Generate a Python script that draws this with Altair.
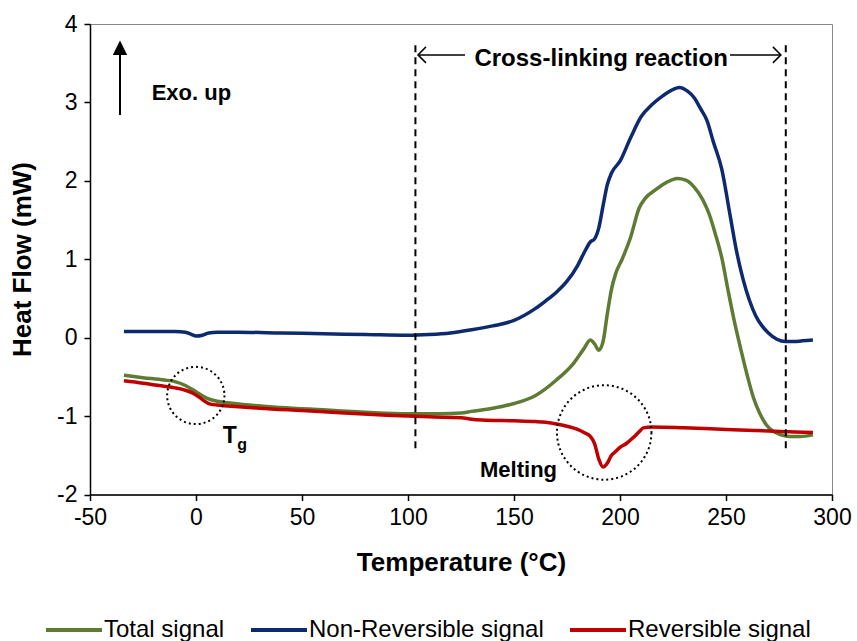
import altair as alt
import pandas as pd

# ---------------- data ----------------
series_names = ["Total signal", "Non-Reversible signal", "Reversible signal"]
series_colors = ["#5E7B33", "#0E2A6E", "#C00000"]

total_x = [-34, -25, -15, -10, -5, 0, 5, 10, 15, 25, 40, 60, 80, 100, 115, 125, 130, 140, 150,
           160, 170, 178, 183, 186, 188, 190, 192, 194, 196, 198, 201, 205, 209, 212, 217, 222,
           227, 231, 235, 239, 242, 245, 248, 251, 254, 257, 260, 263, 266, 269, 272, 276, 280,
           285, 291]
total_y = [-0.48, -0.51, -0.54, -0.56, -0.61, -0.69, -0.77, -0.81, -0.83, -0.86, -0.89, -0.92,
           -0.95, -0.97, -0.97, -0.96, -0.94, -0.90, -0.84, -0.74, -0.54, -0.33, -0.14, -0.03,
           -0.08, -0.16, -0.05, 0.30, 0.62, 0.82, 1.00, 1.28, 1.65, 1.78, 1.89, 1.98, 2.03, 2.01,
           1.92, 1.76, 1.58, 1.32, 1.02, 0.60, 0.20, -0.15, -0.48, -0.77, -0.97, -1.11, -1.19,
           -1.24, -1.26, -1.26, -1.24]

nonrev_x = [-34, -30, -20, -10, -5, -2, 0, 3, 6, 10, 20, 40, 60, 80, 100, 110, 120, 130, 140,
            150, 160, 165, 170, 175, 180, 183, 186, 188, 190, 192, 194, 196, 200, 205, 210, 215,
            220, 224, 228, 232, 235, 238, 241, 244, 248, 252, 255, 258, 261, 264, 267, 270, 274,
            278, 282, 286, 291]
nonrev_y = [0.08, 0.08, 0.08, 0.08, 0.07, 0.04, 0.02, 0.03, 0.06, 0.07, 0.07, 0.06, 0.05, 0.04,
            0.03, 0.04, 0.06, 0.10, 0.15, 0.22, 0.37, 0.47, 0.58, 0.72, 0.92, 1.08, 1.22, 1.26,
            1.40, 1.68, 1.95, 2.10, 2.25, 2.55, 2.82, 2.97, 3.08, 3.15, 3.19, 3.14, 3.06, 2.92,
            2.77, 2.50, 2.15, 1.55, 1.10, 0.75, 0.48, 0.28, 0.15, 0.06, -0.02, -0.05, -0.05,
            -0.04, -0.03]

rev_x = [-34, -25, -15, -10, -5, -2, 0, 3, 6, 10, 15, 30, 50, 70, 90, 110, 125, 130, 135, 150,
         160, 165, 170, 175, 180, 183, 186, 188, 190, 192, 194, 196, 198, 200, 203, 206, 209,
         211, 215, 230, 250, 270, 280, 291]
rev_y = [-0.55, -0.58, -0.62, -0.64, -0.67, -0.70, -0.73, -0.79, -0.84, -0.86, -0.87, -0.90,
         -0.93, -0.96, -0.99, -1.01, -1.02, -1.04, -1.05, -1.06, -1.07, -1.08, -1.10, -1.13,
         -1.17, -1.21, -1.26, -1.35, -1.55, -1.65, -1.60, -1.50, -1.45, -1.40, -1.35, -1.28,
         -1.20, -1.15, -1.14, -1.15, -1.17, -1.19, -1.20, -1.21]

x_ticks = [-50, 0, 50, 100, 150, 200, 250, 300]
y_ticks = [-2, -1, 0, 1, 2, 3, 4]

# annotations (data coordinates)
region_x = [103.5, 278.2]
region_y = [3.73, -1.46]
arrow_left_x = [104.7, 126.9]
arrow_right_x = [251.9, 275.9]
arrow_y = 3.606
circles_x = [-0.1, 192.55]
circles_y = [-0.737, -1.209]
circles_size = [3283, 8930]

FONT = "Liberation Sans"

rows = []
for name, xs, ys in zip(series_names, [total_x, nonrev_x, rev_x], [total_y, nonrev_y, rev_y]):
    for i, (a, b) in enumerate(zip(xs, ys)):
        rows.append({"series": name, "T": a, "H": b, "idx": i})
df = pd.DataFrame(rows)

xscale = alt.Scale(domain=[-50, 300], nice=False, zero=False)
yscale = alt.Scale(domain=[-2, 4], nice=False, zero=False)
cscale = alt.Scale(domain=series_names, range=series_colors)

x_axis = alt.Axis(values=x_ticks, grid=False, tickSize=6, labelPadding=6, labelFontSize=23,
                  labelFont=FONT, labelColor="black", titleFont=FONT, titleFontSize=26,
                  titleFontWeight="bold", titleColor="black", titleBaseline="middle",
                  titleY=67.5, domainColor="black", domainWidth=1.5, tickColor="black",
                  tickWidth=1.5, labelFlush=False, labelExpr="'' + datum.value")
y_axis = alt.Axis(values=y_ticks, grid=False, tickSize=6, labelPadding=7, labelFontSize=23,
                  labelFont=FONT, labelColor="black", titleFont=FONT, titleFontSize=26,
                  titleFontWeight="bold", titleColor="black", titleAngle=270,
                  titleBaseline="middle", titleAlign="center", titleX=-68, titleY=235,
                  domainColor="black", domainWidth=1.5, tickColor="black", tickWidth=1.5,
                  labelFlush=False, labelExpr="'' + datum.value")

legend = alt.Legend(orient="none", legendX=-46, legendY=576, direction="horizontal",
                    columns=3, title=None, symbolType="stroke", symbolSize=3136,
                    symbolStrokeWidth=4, labelFontSize=24, labelFont=FONT, labelColor="black",
                    columnPadding=18, labelOffset=0, padding=0, labelLimit=0)

base = alt.Chart(df)


def series_layer(name):
    return base.transform_filter(alt.datum.series == name).mark_line(
        strokeWidth=3.5, interpolate="monotone"
    ).encode(
        x=alt.X("T:Q", scale=xscale, axis=x_axis, title="Temperature (°C)"),
        y=alt.Y("H:Q", scale=yscale, axis=y_axis, title="Heat Flow (mW)"),
        color=alt.Color("series:N", scale=cscale, legend=legend),
        order="idx:Q",
    )


lines = [series_layer(n) for n in series_names]

ann_df = pd.DataFrame({"x": region_x, "y": [region_y[0]] * 2, "y2": [region_y[1]] * 2})
dashed = alt.Chart(ann_df).mark_rule(color="black", strokeWidth=2, strokeDash=[7, 5]).encode(
    x=alt.X("x:Q", scale=xscale), y=alt.Y("y:Q", scale=yscale), y2="y2:Q")

arr_df = pd.DataFrame({"x": [arrow_left_x[0], arrow_right_x[0]],
                       "x2": [arrow_left_x[1], arrow_right_x[1]],
                       "y": [arrow_y, arrow_y]})
arr_lines = alt.Chart(arr_df).mark_rule(color="black", strokeWidth=1.5).encode(
    x=alt.X("x:Q", scale=xscale), x2="x2:Q", y=alt.Y("y:Q", scale=yscale))

head_l = alt.Chart(pd.DataFrame({"x": [arrow_left_x[0]], "y": [arrow_y]})).mark_point(
    shape="M1,-1L0,0L1,1", size=256, filled=False, color="black", strokeWidth=1.5, opacity=1
).encode(x=alt.X("x:Q", scale=xscale), y=alt.Y("y:Q", scale=yscale))
head_r = alt.Chart(pd.DataFrame({"x": [arrow_right_x[1]], "y": [arrow_y]})).mark_point(
    shape="M-1,-1L0,0L-1,1", size=256, filled=False, color="black", strokeWidth=1.5, opacity=1
).encode(x=alt.X("x:Q", scale=xscale), y=alt.Y("y:Q", scale=yscale))

cross_txt = alt.Chart(pd.DataFrame({"x": [191.1], "y": [3.466], "t": ["Cross-linking reaction"]})
                      ).mark_text(font=FONT, fontSize=24, fontWeight="bold", align="center",
                                  baseline="alphabetic", color="black").encode(
    x=alt.X("x:Q", scale=xscale), y=alt.Y("y:Q", scale=yscale), text="t:N")

# Exo up arrow
exo_shaft = alt.Chart(pd.DataFrame({"x": [-35.85], "y": [2.84], "y2": [3.62]})).mark_rule(
    color="black", strokeWidth=2).encode(
    x=alt.X("x:Q", scale=xscale), y=alt.Y("y:Q", scale=yscale), y2="y2:Q")
exo_head = alt.Chart(pd.DataFrame({"x": [-35.85], "y": [3.697]})).mark_point(
    shape="M0,-1L1,1L-1,1Z", size=207, filled=True, color="black", opacity=1).encode(
    x=alt.X("x:Q", scale=xscale), y=alt.Y("y:Q", scale=yscale))
exo_txt = alt.Chart(pd.DataFrame({"x": [-20.9], "y": [3.03], "t": ["Exo. up"]})).mark_text(
    font=FONT, fontSize=22, fontWeight="bold", align="left", baseline="alphabetic",
    color="black").encode(x=alt.X("x:Q", scale=xscale), y=alt.Y("y:Q", scale=yscale), text="t:N")

circ_df = pd.DataFrame({"x": circles_x, "y": circles_y, "s": circles_size})
circles = alt.Chart(circ_df).mark_point(shape="circle", filled=False, color="black",
                                        strokeWidth=2, strokeDash=[2, 3], opacity=1).encode(
    x=alt.X("x:Q", scale=xscale), y=alt.Y("y:Q", scale=yscale),
    size=alt.Size("s:Q", scale=None, legend=None))

tg_T = alt.Chart(pd.DataFrame({"x": [12.6], "y": [-1.347], "t": ["T"]})).mark_text(
    font=FONT, fontSize=23, fontWeight="bold", align="left", baseline="alphabetic",
    color="black").encode(x=alt.X("x:Q", scale=xscale), y=alt.Y("y:Q", scale=yscale), text="t:N")
tg_g = alt.Chart(pd.DataFrame({"x": [19.4], "y": [-1.43], "t": ["g"]})).mark_text(
    font=FONT, fontSize=16, fontWeight="bold", align="left", baseline="alphabetic",
    color="black").encode(x=alt.X("x:Q", scale=xscale), y=alt.Y("y:Q", scale=yscale), text="t:N")
melt_txt = alt.Chart(pd.DataFrame({"x": [170.3], "y": [-1.78], "t": ["Melting"]})).mark_text(
    font=FONT, fontSize=22, fontWeight="bold", align="right", baseline="alphabetic",
    color="black").encode(x=alt.X("x:Q", scale=xscale), y=alt.Y("y:Q", scale=yscale), text="t:N")

chart = alt.layer(
    *lines, dashed, arr_lines, head_l, head_r, cross_txt, exo_shaft, exo_head, exo_txt,
    circles, tg_T, tg_g, melt_txt
).properties(
    width=742, height=470.5,
    autosize=alt.AutoSizeParams(type="none"),
    padding={"left": 90, "top": 24, "right": 25, "bottom": 146.5},
    background="white",
).configure_view(stroke="#888888", strokeWidth=1)

chart.save("out.html", embed_options={"renderer": "svg", "actions": False})
